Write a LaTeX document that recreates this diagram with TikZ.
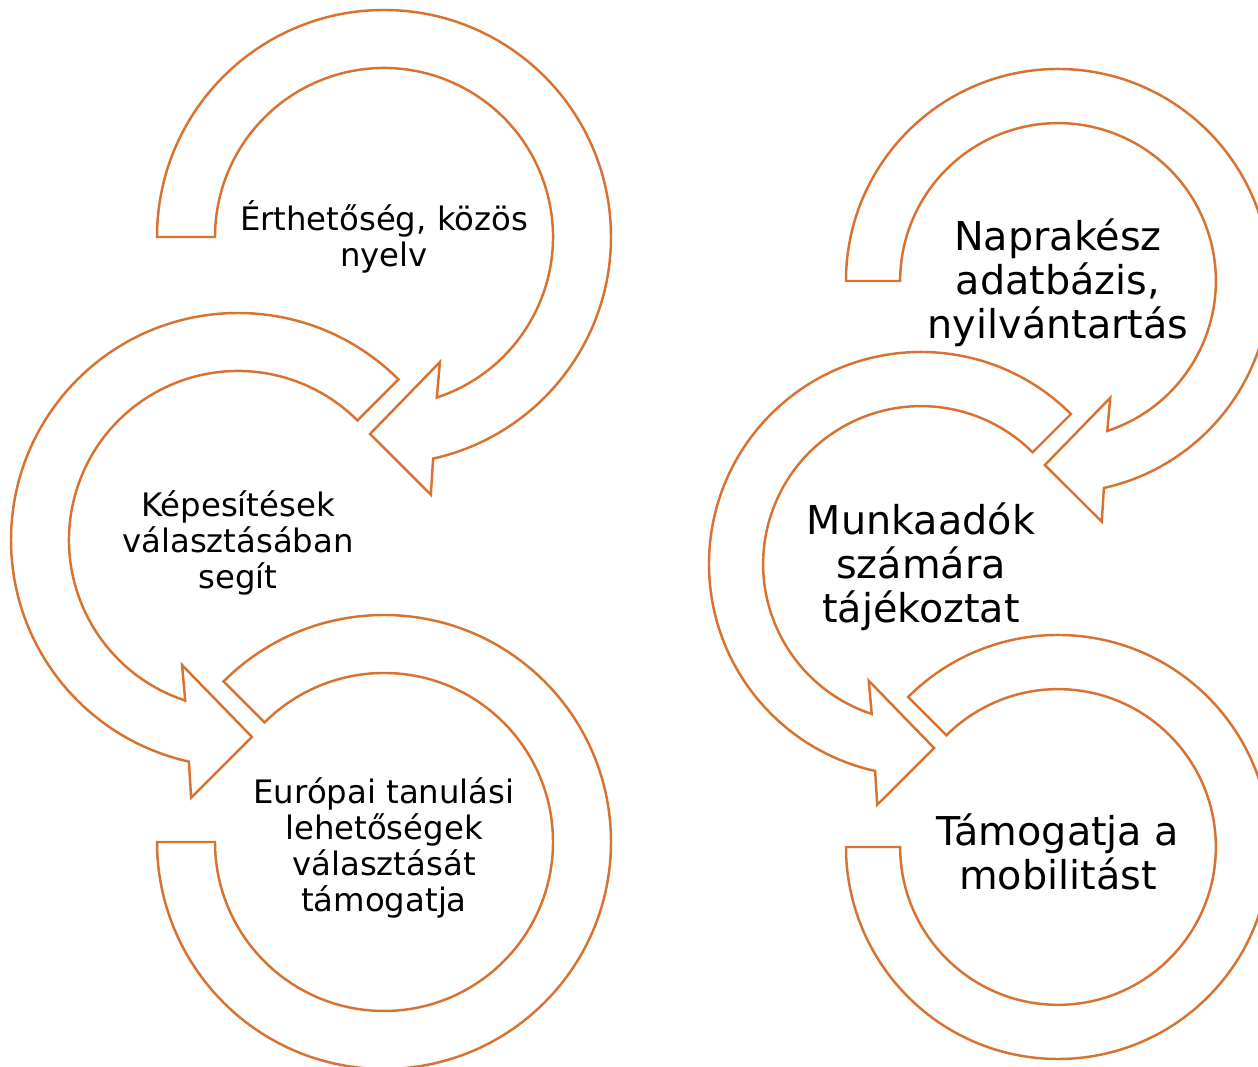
\documentclass[tikz,border=0pt]{standalone}
\usepackage{fontspec}
\setmainfont{DejaVu Sans}
\definecolor{arrorange}{RGB}{216,114,48}
\begin{document}
\begin{tikzpicture}[x=0.02cm,y=0.02cm,
  arrowshape/.style={draw=arrorange,line width=1.4pt,line join=miter,fill=white},
  smalltxt/.style={align=center,font=\fontsize{18.4}{20.6}\selectfont,text=black},
  bigtxt/.style={align=center,font=\fontsize{22.6}{25}\selectfont,text=black}]
\useasboundingbox[fill=white] (0,0) rectangle (1258,1067);
% ---------- left column ----------
\begin{scope}[shift={(384,830)}]
  \draw[arrowshape] (180:227) arc[start angle=180,end angle=-77.5,radius=227]
    -- (-79.7:262) -- (-94.06:197.5) -- (-65.9:137) -- (-71.8:169)
    arc[start angle=-71.8,end angle=180,radius=169] -- cycle;
\end{scope}
\begin{scope}[shift={(238,527)}]
  \draw[arrowshape] (45:227) arc[start angle=45,end angle=257.5,radius=227]
    -- (259.7:262) -- (274.06:197.5) -- (245.9:137) -- (251.8:169)
    arc[start angle=251.8,end angle=45,radius=169] -- cycle;
\end{scope}
\begin{scope}[shift={(384,225)}]
  \draw[arrowshape] (135:227) arc[start angle=135,end angle=-180,radius=227]
    -- (-180:169) arc[start angle=-180,end angle=135,radius=169] -- cycle;
\end{scope}
% ---------- right column ----------
\begin{scope}[shift={(1058,786)},scale=0.934]
  \draw[arrowshape] (180:227) arc[start angle=180,end angle=-77.5,radius=227]
    -- (-79.7:262) -- (-94.06:197.5) -- (-65.9:137) -- (-71.8:169)
    arc[start angle=-71.8,end angle=180,radius=169] -- cycle;
\end{scope}
\begin{scope}[shift={(921,503)},scale=0.934]
  \draw[arrowshape] (45:227) arc[start angle=45,end angle=257.5,radius=227]
    -- (259.7:262) -- (274.06:197.5) -- (245.9:137) -- (251.8:169)
    arc[start angle=251.8,end angle=45,radius=169] -- cycle;
\end{scope}
\begin{scope}[shift={(1058,220)},scale=0.934]
  \draw[arrowshape] (135:227) arc[start angle=135,end angle=-180,radius=227]
    -- (-180:169) arc[start angle=-180,end angle=135,radius=169] -- cycle;
\end{scope}
% ---------- texts ----------
\node[smalltxt] (l1) at (384,830) {Érthetőség, közös\\nyelv};
\node[smalltxt] (l2) at (238,524) {Képesítések\\választásában\\segít};
\node[smalltxt] (l3) at (384,219) {Európai tanulási\\lehetőségek\\választását\\támogatja};
\node[bigtxt] (r1) at (1058,784) {Naprakész\\adatbázis,\\nyilvántartás};
\node[bigtxt] (r2) at (921,500) {Munkaadók\\számára\\tájékoztat};
\node[bigtxt] (r3) at (1058,215) {Támogatja a\\mobilitást};
\end{tikzpicture}
\end{document}
